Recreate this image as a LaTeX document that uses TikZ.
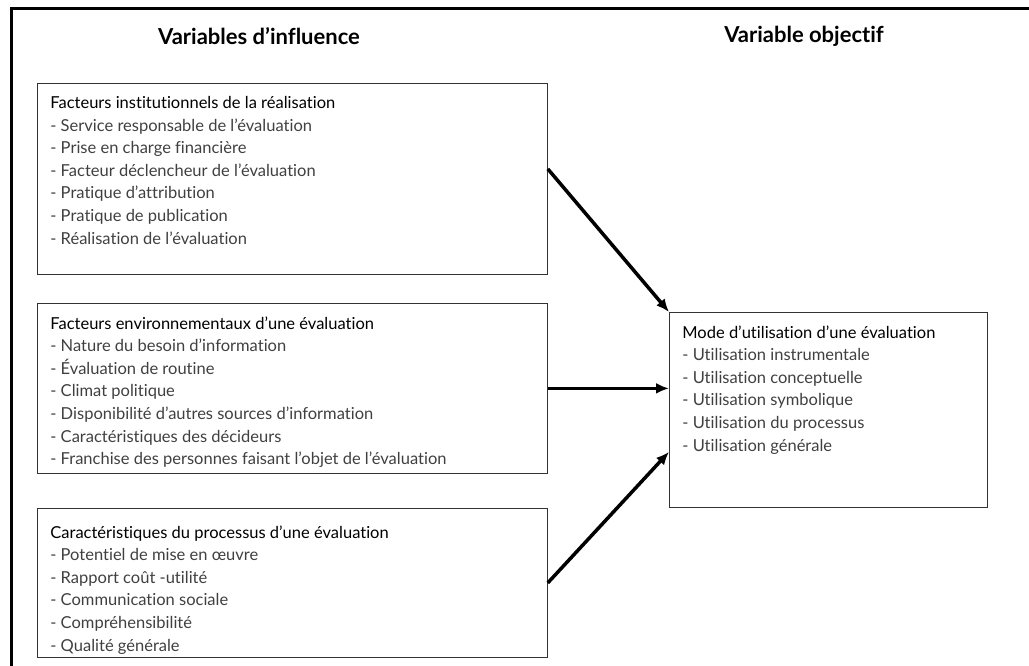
\documentclass[tikz,border=0pt]{standalone}
\usepackage{fontspec}
\setmainfont{Lato}[Ligatures={TeX,NoCommon}]
\usetikzlibrary{arrows.meta}

\begin{document}
\begin{tikzpicture}[x=1pt,y=1pt,
	cadre/.style={draw=black!80, line width=0.8pt, anchor=north west, inner sep=13pt,
		font=\fontsize{16.5}{22.6}\selectfont},
	titre/.style={font=\fontsize{22}{26}\selectfont\bfseries},
	fleche/.style={line width=3.5pt, -{Latex[length=13pt,width=11pt]}}]
	\useasboundingbox (0,0) rectangle (1029,666);
	\draw[line width=2.2pt] (11.5,0) -- (11.5,657.5) -- (1029,657.5);
	
	\node[titre] (infl) at (259,630) {Variables d’influence};
	\node[titre] (obj) at (804,630) {Variable objectif};
	
	\node[cadre] (inst) at (37,583) {\begin{minipage}[t][165pt][t]{484pt}
		Facteurs institutionnels de la réalisation\\
		\color{black!75}- Service responsable de l’évaluation\\
		- Prise en charge financière\\
		- Facteur déclencheur de l’évaluation\\
		- Pratique d’attribution\\
		- Pratique de publication\\
		- Réalisation de l’évaluation
	\end{minipage}};
	\node[cadre] (env) at (37,363) {\begin{minipage}[t][144pt][t]{484pt}
		Facteurs environnementaux d’une évaluation\\
		\color{black!75}- Nature du besoin d’information\\
		- Évaluation de routine\\
		- Climat politique\\
		- Disponibilité d’autres sources d’information\\
		- Caractéristiques des décideurs\\
		- Franchise des personnes faisant l’objet de l’évaluation
	\end{minipage}};
	\node[cadre] (proc) at (37,158) {\begin{minipage}[t][123pt][t]{484pt}
		\vspace*{4pt}Caractéristiques du processus d’une évaluation\\
		\color{black!75}- Potentiel de mise en œuvre\\
		- Rapport coût -utilité\\
		- Communication sociale\\
		- Compréhensibilité\\
		- Qualité générale
	\end{minipage}};
	\node[cadre] (mode) at (669,354) {\begin{minipage}[t][169pt][t]{292pt}
		Mode d’utilisation d’une évaluation\\
		\color{black!75}- Utilisation instrumentale\\
		- Utilisation conceptuelle\\
		- Utilisation symbolique\\
		- Utilisation du processus\\
		- Utilisation générale
	\end{minipage}};
	
	\draw[fleche] ([yshift=10pt]inst.east) -- (mode.north west);
	\draw[fleche] (env.east) -- (env.east -| mode.west);
	\draw[fleche] (proc.east) -- ([yshift=-42pt]mode.west);
\end{tikzpicture}
\end{document}
